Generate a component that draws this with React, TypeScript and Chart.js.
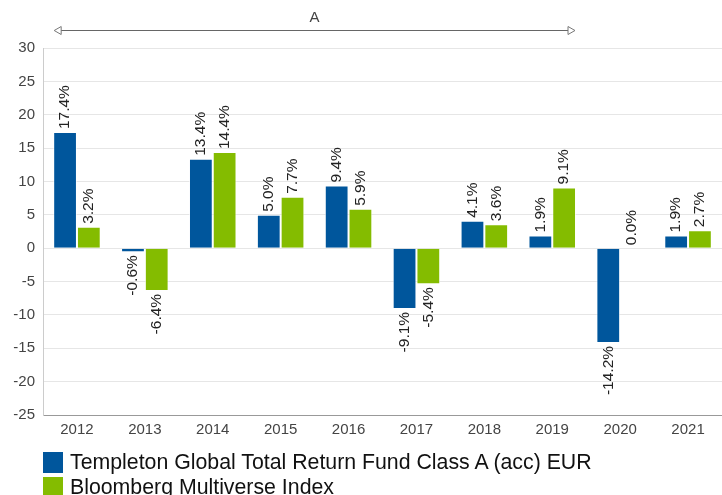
import React, { useEffect, useRef } from "react";
import { Chart, registerables } from "chart.js";

Chart.register(...registerables);

const years = ["2012", "2013", "2014", "2015", "2016", "2017", "2018", "2019", "2020", "2021"];
const fundValues = [17.4, -0.6, 13.4, 5.0, 9.4, -9.1, 4.1, 1.9, -14.2, 1.9];
const indexValues = [3.2, -6.4, 14.4, 7.7, 5.9, -5.4, 3.6, 9.1, 0.0, 2.7];
const fundLabel = "Templeton Global Total Return Fund Class A (acc) EUR";
const indexLabel = "Bloomberg Multiverse Index";
const periodLabel = "A";
const periodStart = 0;
const periodEnd = 7;

const BLUE = "#00569c";
const GREEN = "#84bc00";
const FONT = "'Liberation Sans', Arial, sans-serif";

const labelPlugin = {
  id: "barLabels",
  afterDatasetsDraw(chart: any) {
    const ctx = chart.ctx;
    ctx.save();
    ctx.font = `15.5px ${FONT}`;
    ctx.fillStyle = "#222";
    ctx.textBaseline = "middle";
    chart.data.datasets.forEach((ds: any, di: number) => {
      const meta = chart.getDatasetMeta(di);
      meta.data.forEach((bar: any, i: number) => {
        const v = ds.data[i];
        const text = v.toFixed(1) + "%";
        ctx.save();
        if (v >= 0) {
          ctx.translate(bar.x, Math.min(bar.y, bar.base));
          ctx.rotate(-Math.PI / 2);
          ctx.textAlign = "left";
          ctx.fillText(text, 3, 0);
        } else {
          ctx.translate(bar.x, Math.max(bar.y, bar.base));
          ctx.rotate(-Math.PI / 2);
          ctx.textAlign = "right";
          ctx.fillText(text, -3, 0);
        }
        ctx.restore();
      });
    });
    ctx.restore();
  },
};

const arrowPlugin = {
  id: "periodArrow",
  afterDraw(chart: any) {
    const ctx = chart.ctx;
    const m0 = chart.getDatasetMeta(0).data[periodStart];
    const m1 = chart.getDatasetMeta(1).data[periodEnd];
    if (!m0 || !m1) return;
    const x0 = m0.x - m0.width / 2;
    const x1 = m1.x + m1.width / 2;
    const y = 30.5;
    ctx.save();
    ctx.strokeStyle = "#666";
    ctx.lineWidth = 1;
    ctx.beginPath();
    ctx.moveTo(x0 + 8, y);
    ctx.lineTo(x1 - 8, y);
    ctx.stroke();
    ctx.strokeStyle = "#777";
    ctx.beginPath();
    ctx.moveTo(x0 + 1, y);
    ctx.lineTo(x0 + 8, y - 4);
    ctx.lineTo(x0 + 8, y + 4);
    ctx.closePath();
    ctx.stroke();
    ctx.beginPath();
    ctx.moveTo(x1 - 1, y);
    ctx.lineTo(x1 - 8, y - 4);
    ctx.lineTo(x1 - 8, y + 4);
    ctx.closePath();
    ctx.stroke();
    ctx.fillStyle = "#444";
    ctx.font = `15px ${FONT}`;
    ctx.textAlign = "center";
    ctx.textBaseline = "middle";
    ctx.fillText(periodLabel, (x0 + x1) / 2, 18);
    ctx.restore();
  },
};

export default function App() {
  const ref = useRef<HTMLCanvasElement>(null);
  useEffect(() => {
    if (!ref.current) return;
    const chart = new Chart(ref.current, {
      type: "bar",
      data: {
        labels: years,
        datasets: [
          {
            label: fundLabel,
            data: fundValues,
            backgroundColor: BLUE,
            borderColor: "rgba(255,255,255,0.6)",
            borderWidth: 1,
            categoryPercentage: 0.7,
            barPercentage: 1,
          },
          {
            label: indexLabel,
            data: indexValues,
            backgroundColor: GREEN,
            borderColor: "rgba(255,255,255,0.6)",
            borderWidth: 1,
            categoryPercentage: 0.7,
            barPercentage: 1,
          },
        ],
      },
      options: {
        animation: false,
        responsive: false,
        maintainAspectRatio: false,
        layout: { padding: { top: 48, bottom: 50, left: 0, right: 0 } },
        plugins: {
          legend: { display: false },
          tooltip: { enabled: false },
          title: { display: false },
        },
        scales: {
          x: {
            grid: { display: false, drawTicks: false },
            border: { color: "#999", width: 1 },
            ticks: { color: "#444", font: { family: FONT, size: 15 }, padding: 6 },
            afterFit: (s: any) => {
              s.height = 30;
            },
          },
          y: {
            min: -25,
            max: 30,
            ticks: { stepSize: 5, color: "#444", font: { family: FONT, size: 15 }, padding: 8 },
            grid: { color: "#e6e6e6", drawTicks: false },
            border: { color: "#ccc", width: 1 },
            afterFit: (s: any) => {
              s.width = 43;
            },
          },
        },
      },
      plugins: [labelPlugin, arrowPlugin],
    });
    return () => chart.destroy();
  }, []);

  const legendItem = (color: string, text: string, top: number) => (
    <div
      style={{
        position: "absolute",
        left: 43,
        top,
        display: "flex",
        alignItems: "center",
        fontFamily: FONT,
        fontSize: 21.3,
        color: "#111",
        whiteSpace: "nowrap",
        lineHeight: "22px",
      }}
    >
      <span style={{ display: "inline-block", width: 20, height: 21, background: color, marginRight: 7 }} />
      <span>{text}</span>
    </div>
  );

  return (
    <div style={{ position: "fixed", left: 0, top: 0, width: 722, height: 495, overflow: "hidden", background: "#fff" }}>
      <canvas ref={ref} width={722} height={495} style={{ display: "block" }} />
      {legendItem(BLUE, fundLabel, 451)}
      {legendItem(GREEN, indexLabel, 476)}
    </div>
  );
}
